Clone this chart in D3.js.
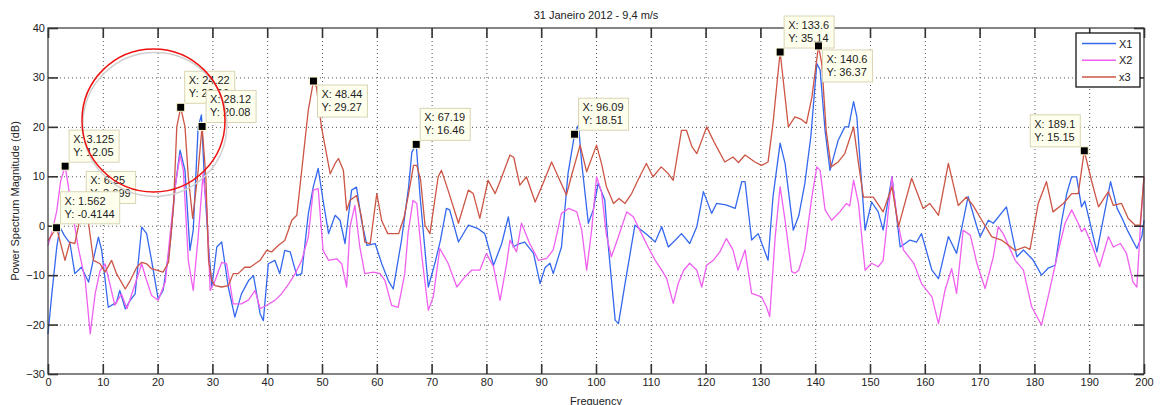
<!DOCTYPE html>
<html>
<head>
<meta charset="utf-8" />
<title>31 Janeiro 2012 - 9,4 m/s</title>
<style>
  body { margin: 0; background: #fff; }
  svg text { font-family: "Liberation Sans", Arial, sans-serif; fill: #222; }
  .axis text { font-size: 11px; }
  .axis .domain { display: none; }
  .axis line { stroke: #333; stroke-width: 1.6; }
  .grid line { stroke: #555; stroke-width: 1; stroke-dasharray: 1,3; }
  .grid .domain { display: none; }
  .series { fill: none; stroke-width: 1.3; stroke-linejoin: round; }
  .tip rect.box { fill: #ffffee; stroke: #d8d4b4; stroke-width: 1; }
  .tip text { font-size: 11px; fill: #222; }
  .legend text { font-size: 11px; }
</style>
</head>
<body>
<svg id="chart" width="1160" height="405"></svg>
<script src="https://cdn.jsdelivr.net/npm/d3@7"></script>
<script>
// ---- data ----
const chartTitle = "31 Janeiro 2012 - 9,4 m/s";
const xLabel = "Frequency";
const yLabel = "Power Spectrum Magnitude (dB)";
const xTicks = [0, 10, 20, 30, 40, 50, 60, 70, 80, 90, 100, 110, 120, 130, 140, 150, 160, 170, 180, 190, 200];
const yTicks = [-30, -20, -10, 0, 10, 20, 30, 40];
const seriesNames = ["X1", "X2", "x3"];
const seriesColors = ["#3468ee", "#f060f0", "#cc5545"];

// [frequency, magnitude dB]
const x1Points = [[0,-21.9],[0.7,-13.8],[1.6,-4.3],[2.2,-0.3],[3.0,-2],[4.0,-3.5],[4.9,-9.7],[6.1,-8.4],[7.4,-11.4],[8.3,-6.7],[9.2,-2.3],[9.8,-5.0],[11.0,-16.5],[12.5,-15.5],[13.1,-13.1],[14.1,-16.8],[15.0,-15.1],[15.9,-13.8],[17.1,-0.3],[18.0,-1.6],[18.9,-7.0],[20.1,-14.8],[21.0,-13.1],[22.3,-3.6],[23.2,7.8],[24.1,15.3],[25.0,11.2],[25.9,-5.0],[26.5,-0.9],[27.4,20],[28.0,22.4],[28.6,7.8],[29.3,-4.3],[29.9,-12.4],[30.8,-4.3],[31.7,-3.3],[32.9,-12.4],[34.1,-18.5],[35.3,-13.8],[36.6,-11.1],[37.5,-10.1],[38.7,-17.8],[39.3,-19.2],[40.2,-7.7],[41.4,-7.0],[42.3,-9.7],[43.2,-5.0],[44.2,-5.3],[45.4,-10.1],[46.3,-9.7],[47.5,2.4],[48.4,7.8],[49.3,11.6],[50.2,5.1],[51.2,-1.6],[52.4,2.1],[53.3,1.1],[54.2,-3.6],[55.4,7.2],[56.3,7.8],[57.2,1.1],[58.2,-4.0],[59.7,-3.6],[60.9,-7.7],[62.1,-11.1],[63.0,-12.8],[64.5,-3.0],[65.8,7.8],[66.4,14.9],[67.19,16.46],[67.9,5.9],[69.4,-12.4],[70.6,-7.6],[71.6,-3],[72.7,3.5],[73.3,3.2],[74.9,-3.3],[76.7,0.1],[78.5,-0.6],[79.7,-1.6],[81.3,-8.0],[82.8,-3.6],[84.0,1.8],[84.9,-4.3],[85.8,-3.7],[87.0,-3.3],[88.6,-5.6],[89.8,-11.7],[90.7,-8.5],[91.6,-7.6],[92.2,-9.7],[93.7,-4.3],[94.9,10.6],[96.09,18.51],[96.8,20.4],[97.4,12.6],[98.6,0.5],[99.5,3.2],[100.4,8.6],[101.6,5.2],[102.2,-3.6],[103.5,-19.1],[104.1,-19.8],[105.3,-11.7],[107.1,0.1],[108.3,-0.9],[109.5,-2],[110.8,-3.3],[112.0,-0.2],[113.2,-4.3],[114.4,-3],[115.6,-1.6],[117.1,-3.6],[118.4,-0.2],[119.6,6.9],[121.1,2.5],[122.0,4.5],[123.7,4.2],[125.4,3.5],[126.6,8.9],[127.2,8.9],[128.4,-2.9],[129.6,-1.6],[131.4,-7.0],[132.3,5.9],[133.6,16.7],[134.5,12.6],[136.0,-0.9],[137.0,2],[138.1,8.5],[139.2,18],[140.3,32.8],[140.9,31.5],[141.8,19.3],[142.7,11.2],[144.2,17.3],[145.4,20.0],[146.1,20.0],[147.0,25.1],[147.6,22.0],[149.1,-0.9],[150.3,4.8],[151.5,2.8],[152.4,-0.9],[154.0,9.9],[155.5,-4.3],[157.3,-2.9],[158.5,-3.3],[159.4,-1.6],[161.3,-9.0],[162.5,-10.7],[164.3,-2.2],[165.8,-5.6],[167.9,5.9],[169.5,-0.2],[170.1,-2.2],[171.6,1.1],[172.5,0.5],[174.9,3.8],[176.8,-6.3],[178.0,-4.9],[179.8,-7.0],[181.3,-10.0],[182.5,-8.6],[183.8,-8.0],[185.0,1.1],[185.9,6.5],[186.8,9.9],[187.7,9.9],[188.6,3.8],[189.2,5],[191.4,-5.3],[193.9,8.9],[195.1,3.5],[196.0,1.5],[197.1,-1.2],[198.7,-4.6],[199.6,-2.2],[200,1.1]];

const x2Points = [[0,-4],[0.8,-1],[1.6,3],[2.3,9],[3.125,12.05],[4.3,3.8],[5.5,-4.3],[6.8,-11.1],[7.7,-21.9],[8.6,-13.8],[9.5,-9.1],[10.4,-7.7],[11.3,-11.8],[12.2,-16.1],[13.4,-13.8],[14.4,-16.8],[15.3,-13.8],[17.1,-7.7],[18.0,-11.1],[18.9,-14.1],[20.1,-15.1],[21.4,-11.4],[22.3,-1.6],[23.2,7.8],[24.1,14.3],[24.7,11.2],[25.6,-7.0],[26.5,-13.1],[27.4,-2.3],[28.3,10.5],[29.0,3.1],[29.6,-13.1],[30.5,-11.1],[31.7,-7.4],[32.6,-7.7],[33.8,-15.8],[35.3,-15.8],[36.6,-15],[37.8,-13.1],[38.7,-16.8],[39.9,-16.1],[41.4,-15.1],[42.6,-13.8],[43.9,-11.8],[45.1,-9.7],[46.3,-7.0],[47.5,-2.3],[48.4,7.2],[49.3,7.5],[50.2,-5.0],[51.2,-7.0],[52.7,-6.7],[53.6,-7.7],[54.5,-12.4],[55.1,-0.3],[56.0,4.1],[56.9,-4.3],[57.8,-9.7],[59.4,-9.4],[60.6,-9.7],[61.5,-11.1],[62.7,-16.1],[63.9,-16.5],[65.1,-9.7],[65.7,-1.6],[66.6,5.1],[67.3,4.5],[68.2,-6],[69.4,-17.1],[70.3,-14.4],[71.5,-4.6],[73.0,-7.6],[74.6,-12.4],[75.8,-10.7],[77.3,-9.0],[78.8,-9.0],[80.0,-5.6],[81.3,-8.3],[82.5,-15.1],[83.7,-7.6],[84.3,-2.9],[85.5,-5.3],[86.4,0.5],[87.9,-3.6],[89.5,-7.0],[91.0,-6.6],[92.2,-4.9],[93.7,2.5],[95.0,3.5],[96.5,2.8],[97.4,-0.9],[98.3,-9.0],[99.2,-0.9],[100.1,9.9],[101.0,6.9],[101.9,-1.9],[102.8,-6.3],[104.1,-2.2],[105.6,2.8],[106.8,1.8],[108.3,-1.6],[109.5,-4.3],[110.8,-7.0],[112.0,-9.0],[112.9,-10.7],[114.1,-15.7],[115.0,-11.7],[116.0,-9],[117.1,-7.6],[118.4,-9.0],[119.3,-12.4],[120.2,-8.0],[121.4,-7.0],[122.6,-5.3],[123.8,-2.6],[125.0,-4.9],[125.9,-9.0],[127.2,-4.9],[128.4,-13.7],[130.2,-14.4],[131.1,-16.4],[131.7,-18.4],[132.7,-2.2],[133.6,7.9],[134.5,1.1],[135.7,-9.3],[136.3,-9.6],[137.0,-9],[138.1,-4.9],[139.4,5.9],[140.3,11.9],[140.9,11.2],[141.8,3.2],[143.0,1.1],[144.5,2.8],[145.7,4.5],[146.3,4],[147.0,9.2],[147.9,4.5],[149.1,-9.0],[150.3,-7.6],[151.5,-8.3],[152.4,-7.0],[154.0,9.9],[154.9,1.8],[156.1,-4.9],[158.0,-7.6],[159.4,-11.7],[161.3,-14.4],[162.5,-19.8],[163.7,-13.0],[164.9,-8.7],[165.8,-13.7],[167.0,-0.9],[168.3,-1.9],[169.5,-7.6],[171.0,-12.7],[172.5,-6.3],[173.4,-0.2],[174.3,-1.6],[176.5,-7.0],[178.0,-9.0],[179.5,-16.4],[181.3,-20.1],[182.5,-14.4],[184.4,-4.9],[185.6,0.5],[186.8,3.2],[188.0,0.5],[188.6,-1.2],[189.2,-0.5],[190.4,-3.6],[191.9,-8.3],[193.5,-2.2],[194.4,-4.3],[195.7,-3.6],[196.8,-5.6],[198.0,-11.4],[198.7,-12.4],[199.3,-0.9],[200,9.9]];

const x3Points = [[0,-3.0],[1.562,-0.41],[3.1,-7.0],[4.0,-3.3],[4.9,-3.6],[6.25,3.7],[7.4,0.5],[8.3,-7.0],[9.5,-7.7],[10.4,-9.4],[11.6,-7.0],[12.5,-9.7],[14.1,-12.8],[15.0,-11.1],[16.2,-8.4],[17.1,-7.4],[18.0,-7.7],[18.9,-8.7],[20.1,-9.1],[21.0,-9.4],[22.0,-7.4],[22.9,3.8],[23.5,20],[24.22,23.96],[25.0,20],[25.6,9.9],[26.4,1.5],[27.3,10],[28.12,20.08],[28.8,10],[29.3,-7],[29.9,-11.1],[30.5,-12.1],[31.7,-12.4],[32.9,-12.1],[33.8,-9.7],[34.7,-9.7],[35.9,-8.4],[36.9,-8.4],[37.8,-7.7],[38.7,-7.0],[39.9,-5.0],[40.8,-5.3],[42.0,-4.0],[43.2,-3.0],[44.5,1.1],[45.4,2.1],[46.3,11.2],[47.5,23.4],[48.44,29.27],[49.0,28],[49.9,20],[51.5,10.5],[52.4,12.6],[53.0,13.6],[53.9,11.2],[54.5,3.1],[55.1,5.1],[56.3,6.1],[57.2,1.8],[57.8,-3.3],[58.8,-3.6],[60.0,6.5],[60.9,1.0],[62.0,-1.6],[64.0,-1.6],[65.0,1.8],[65.8,6.5],[66.7,12.2],[67.3,12.2],[68.0,9.2],[68.8,0.1],[69.7,-1.6],[71.2,9.9],[71.8,11.2],[73.0,7.2],[74.9,0.5],[76.7,7.2],[77.6,6.5],[78.8,1.5],[80.3,9.2],[81.6,6.5],[82.5,9],[84.3,14.3],[85.0,13.8],[86.1,8.2],[87.3,9.9],[88.9,4.8],[90.5,9],[91.9,12.9],[93.1,9.9],[94.6,6.2],[95.5,10],[97.1,16.3],[98.3,10.9],[100.1,16.3],[101.0,12.6],[101.9,7.9],[103.2,4.5],[104.2,5.5],[105.3,4.5],[106.5,6.5],[108.0,10],[109.2,12.6],[110.4,9.9],[111.9,11.9],[113.2,10.5],[114.1,9.2],[115.6,19.3],[116.5,19.3],[117.5,16],[118.4,14.6],[120.2,20.0],[121.7,16.6],[123.5,12.9],[125.0,13.9],[126.0,12.8],[127.2,14.3],[129.0,12.9],[130.2,12.2],[131.4,12.9],[132.3,20.7],[133.6,35.14],[135.1,20.0],[136.3,22.0],[137.5,21.5],[138.4,20.7],[139.4,26],[140.6,36.37],[141.2,32.8],[142.0,19.3],[142.9,11.9],[144.2,12.9],[145.4,14.6],[147.0,20.0],[147.9,12.6],[148.8,5.8],[150.6,5.8],[152.4,2.8],[154.0,7.9],[155.2,-0.2],[157.6,9.6],[159.7,3.5],[160.9,4.5],[162.5,2.1],[164.3,12.6],[166.1,4.1],[167.6,5.8],[168.8,4.1],[170.4,1.1],[172.2,-2.2],[174.0,-2.9],[176.5,-5.0],[178.3,-4.3],[179.2,-4.8],[180.7,4.5],[182.2,8.9],[183.4,2.8],[185.3,4.5],[186.8,6.5],[188.0,6.5],[189.1,15.15],[190.4,9.2],[191.7,3.8],[193.5,6.9],[194.4,4.1],[195.9,4.5],[197.1,1.5],[198.4,0.1],[199.3,0.1],[200,9.9]];

// data tips (MATLAB data cursors), in draw order
const tipX = ["6.25", "1.562", "3.125", "24.22", "28.12", "48.44", "67.19", "96.09", "133.6", "140.6", "189.1"];
const tipY = ["3.699", "-0.4144", "12.05", "23.96", "20.08", "29.27", "16.46", "18.51", "35.14", "36.37", "15.15"];
const tipSide = ["ur", "ur", "ur", "ur", "ur", "dr", "ur", "ur", "ur", "dr", "ul"];

// ---- layout ----
const W = 1160, H = 405;
const m = { left: 48, right: 16, top: 28, bottom: 31 };
const iw = W - m.left - m.right, ih = H - m.top - m.bottom;

const svg = d3.select("#chart");
const g = svg.append("g").attr("transform", `translate(${m.left},${m.top})`);

const x = d3.scaleLinear().domain([0, 200]).range([0, iw]);
const y = d3.scaleLinear().domain([-30, 40]).range([ih, 0]);

// grid
g.append("g").attr("class", "grid")
  .attr("transform", `translate(0,${ih})`)
  .call(d3.axisBottom(x).tickValues(xTicks.slice(1, -1)).tickSize(-ih).tickFormat(""));
g.append("g").attr("class", "grid")
  .call(d3.axisLeft(y).tickValues(yTicks.slice(1, -1)).tickSize(-iw).tickFormat(""));

// series
const line = d3.line().x(d => x(d[0])).y(d => y(d[1]));
[x1Points, x2Points, x3Points].forEach((pts, i) => {
  g.append("path").attr("class", "series")
    .attr("d", line(pts))
    .attr("stroke", seriesColors[i]);
});

// frame + ticks on all four sides, pointing inward
g.append("rect").attr("width", iw).attr("height", ih)
  .attr("fill", "none").attr("stroke", "#333").attr("stroke-width", 1.2);
g.append("g").attr("class", "axis")
  .attr("transform", `translate(0,${ih})`)
  .call(d3.axisBottom(x).tickValues(xTicks).tickSize(-10).tickSizeOuter(0).tickPadding(4));
g.append("g").attr("class", "axis")
  .call(d3.axisTop(x).tickValues(xTicks).tickSize(-10).tickSizeOuter(0).tickFormat(""));
g.append("g").attr("class", "axis")
  .call(d3.axisLeft(y).tickValues(yTicks).tickSize(-10).tickSizeOuter(0).tickPadding(3));
g.append("g").attr("class", "axis")
  .attr("transform", `translate(${iw},0)`)
  .call(d3.axisRight(y).tickValues(yTicks).tickSize(-10).tickSizeOuter(0).tickFormat(""));

// data tips
const tips = g.append("g");
tipX.forEach((tx, i) => {
  const mx = x(+tx), my = y(+tipY[i]);
  const t = tips.append("g").attr("class", "tip");
  const box = t.append("rect").attr("class", "box");
  const l1 = t.append("text").text("X: " + tx);
  const l2 = t.append("text").text("Y: " + tipY[i]);
  const tw = Math.max(l1.node().getComputedTextLength(), l2.node().getComputedTextLength()) + 9;
  const bh = 32;
  let bx = mx + 4, by = my - 4 - bh;
  if (tipSide[i] === "dr") { by = my + 4; }
  if (tipSide[i] === "ul") { bx = mx - 4 - tw; }
  box.attr("x", bx).attr("y", by).attr("width", tw).attr("height", bh);
  l1.attr("x", bx + 4).attr("y", by + 13);
  l2.attr("x", bx + 4).attr("y", by + 26);
  t.append("rect").attr("x", mx - 4).attr("y", my - 4).attr("width", 8).attr("height", 8)
    .attr("fill", "#000").attr("stroke", "#fffbd8").attr("stroke-width", 1);
});

// hand-drawn red circle annotation (with its grey shadow)
g.append("ellipse").attr("cx", x(19.5)).attr("cy", y(20.5)).attr("rx", 72).attr("ry", 72)
  .attr("fill", "none").attr("stroke", "#d0d0d0").attr("stroke-width", 1.5);
g.append("ellipse").attr("cx", x(19.25)).attr("cy", y(21.3)).attr("rx", 71.5).attr("ry", 71.5)
  .attr("fill", "none").attr("stroke", "#ee1111").attr("stroke-width", 1.5);

// legend
const lg = svg.append("g").attr("class", "legend").attr("transform", "translate(1076,33)");
lg.append("rect").attr("width", 64).attr("height", 54)
  .attr("fill", "#fff").attr("stroke", "#000").attr("stroke-width", 1.2);
seriesNames.forEach((n, i) => {
  const yy = 10.5 + i * 16.8;
  lg.append("line").attr("x1", 6).attr("x2", 40).attr("y1", yy).attr("y2", yy)
    .attr("stroke", seriesColors[i]).attr("stroke-width", 1.5);
  lg.append("text").attr("x", 43).attr("y", yy + 4).text(n);
});

// titles
svg.append("text").attr("x", m.left + iw / 2).attr("y", 19)
  .attr("text-anchor", "middle").style("font-size", "11px").text(chartTitle);
svg.append("text").attr("x", m.left + iw / 2).attr("y", 405)
  .attr("text-anchor", "middle").style("font-size", "11px").text(xLabel);
svg.append("text").attr("transform", "rotate(-90)")
  .attr("x", -(m.top + ih / 2)).attr("y", 19)
  .attr("text-anchor", "middle").style("font-size", "11px").text(yLabel);
</script>
</body>
</html>
